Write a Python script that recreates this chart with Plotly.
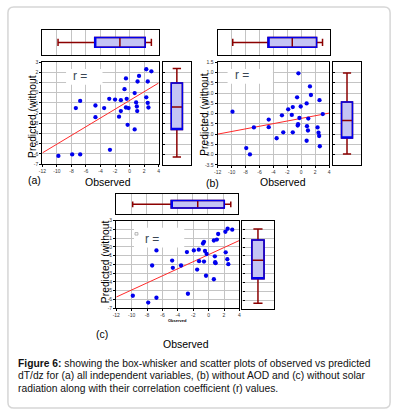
import plotly.graph_objects as go

W, H = 398, 414

# ---------------- data ----------------
obs_a = [-9.8, -7.9, -6.8, -6.8, -7.4, -4.7, -4.7, -3.5, -2.8, -2.7, -2.0, -1.2, -1.2, -1.45,
         -0.7, -0.5, -0.4, -0.5, -0.14, -0.27, 0.7, 0.7, 0.9, 1.0, 1.05, 1.1, 1.3, 2.3, 2.3,
         2.5, 2.5, 2.6, 3.0]
pred_a = [-6.2, -6.05, -6.05, -0.8, -1.5, -1.25, -2.4, -1.5, -0.6, -5.6, -0.67, -0.73, -1.8,
          -2.35, 0.35, 1.4, -0.6, -1.45, -1.5, -3.15, -0.03, -3.6, -0.95, -1.35, -1.8, 1.1,
          1.65, 2.3, -0.45, -1.0, 1.1, -1.45, 2.1]

obs_b = [-9.88, -7.9, -7.37, -6.8, -4.67, -4.67, -3.53, -2.77, -2.58, -1.87, -1.35, -1.21,
         -1.21, -0.59, -0.5, -0.45, -0.4, -0.26, -0.07, 0.78, 0.83, 1.02, 0.97, 0.78, 1.26,
         1.4, 2.35, 2.49, 2.58, 2.63, 2.68, 3.1]
pred_b = [-0.9, -2.68, -2.99, -1.67, -1.29, -1.66, -2.2, -1.08, -1.91, -0.79, -1.06, -0.68,
          -1.91, -0.2, -1.58, -1.51, 0.97, -1.21, -0.65, -0.5, -1.61, -1.24, -1.82, -2.32,
          0.33, -0.09, -1.67, -1.93, -2.09, -0.34, -2.59, -1.02]

obs_c = [-9.85, -7.85, -7.34, -6.78, -6.78, -4.74, -4.65, -3.58, -2.82, -2.69, -1.92, -1.49,
         -1.28, -1.24, -0.73, -0.6, -0.6, -0.47, -0.26, -0.34, 0.68, 0.68, 0.81, 0.85, 0.9,
         1.07, 1.24, 2.18, 2.22, 2.43, 2.47, 2.56, 3.07]
pred_c = [-5.58, -6.36, -2.13, -0.41, -5.81, -1.57, -2.39, -2.13, -0.6, -5.35, -0.41, -2.59,
          -0.33, -1.64, 0.38, 0.57, -1.68, -0.48, -0.82, -3.3, 0.72, -3.7, -1.08, -1.76, -1.87,
          0.83, 1.46, 1.72, -0.63, -1.42, 2.06, -1.98, 1.95]

# regression lines: [slope, intercept]
fit_a = [0.428, -0.76]
fit_b = [0.064, -1.23]
fit_c = [0.403, -0.89]

# box statistics: [lower whisker, q1, median, q3, upper whisker]
box_observed = [-9.85, -4.8, -1.33, 2.15, 3.0]
box_pred_a = [-6.25, -3.57, -1.37, 0.96, 2.37]
box_pred_b = [-2.97, -2.19, -1.33, -0.43, 0.99]
box_pred_c = [-6.36, -3.59, -1.49, 0.79, 2.03]

x_range = [-12, 4]
x_ticks = [-12, -10, -8, -6, -4, -2, 0, 2, 4]
x_tick_labels = ["-12", "-10", "-8", "-6", "-4", "-2", "0", "2", "4"]
y_range_ac = [-7, 3]
y_ticks_ac = [3, 2, 1, 0, -1, -2, -3, -4, -5, -6, -7]
y_tick_labels_ac = ["3", "2", "1", "0", "-1", "-2", "-3", "-4", "-5", "-6", "-7"]
y_range_b = [-3.5, 1.5]
y_ticks_b = [1.5, 1.0, 0.5, 0.0, -0.5, -1.0, -1.5, -2.0, -2.5, -3.0, -3.5]
y_tick_labels_b = ["1.5", "1.0", "0.5", "0.0", "-0.5", "-1.0", "-1.5", "-2.0", "-2.5",
                   "-3.0", "-3.5"]

panel_names = ["(a)", "(b)", "(c)"]
y_title = "Predicted (without"
x_title = "Observed"
r_label = "r ="

# ---------------- layout geometry (pixels) ----------------
panels = [
    dict(sc=(39, 157, 60, 163.5), top=(39, 157, 27, 53), right=(161, 190, 60, 164)),
    dict(sc=(217, 330, 60.3, 164.3), top=(217, 330.5, 27, 53), right=(334, 362.5, 60.3, 164.3)),
    dict(sc=(114, 239, 220.7, 309.7), top=(114, 238, 194, 214.5), right=(242, 273.7, 220.7, 310.5)),
]

def dx(l, r):
    return [l / W, r / W]

def dy(t, b):
    return [1 - b / H, 1 - t / H]

FONT = "Liberation Sans, Arial, sans-serif"
GRID = "#c4c4c4"
FILL = "#c4c4f4"
DARKRED = "#8b0000"
BLUE = "#0000ee"

fig = go.Figure()
layout = {}

datasets = [
    (obs_a, pred_a, fit_a, box_pred_a, y_range_ac, y_ticks_ac, y_tick_labels_ac),
    (obs_b, pred_b, fit_b, box_pred_b, y_range_b, y_ticks_b, y_tick_labels_b),
    (obs_c, pred_c, fit_c, box_pred_c, y_range_ac, y_ticks_ac, y_tick_labels_ac),
]

frame = dict(showline=True, mirror=True, linecolor="black", linewidth=1.4, zeroline=False)

def add_box(xa, ya, stats, horizontal, width):
    lo, q1, med, q3, hi = stats
    common = dict(xaxis=xa, yaxis=ya, boxpoints=False, hoverinfo="skip", showlegend=False,
                  width=width)
    pos = {"y": [0]} if horizontal else {"x": [0]}
    orient = "h" if horizontal else "v"
    fig.add_trace(go.Box(orientation=orient, q1=[q1], median=[med], q3=[q3],
                         lowerfence=[lo], upperfence=[hi], fillcolor=FILL,
                         line=dict(color=DARKRED, width=1.5), whiskerwidth=0.75,
                         **pos, **common))
    fig.add_trace(go.Box(orientation=orient, q1=[q1], median=[q1], q3=[q3],
                         lowerfence=[q1], upperfence=[q3], fillcolor="rgba(0,0,0,0)",
                         line=dict(color=BLUE, width=1.5), whiskerwidth=0,
                         **pos, **common))

def ax(n):
    return "" if n == 1 else str(n)

for i, (p, d) in enumerate(zip(panels, datasets)):
    obs, pred, fit, bstats, yr, yt, ytl = d
    n_sc, n_top, n_rt = 3 * i + 1, 3 * i + 2, 3 * i + 3
    l, r, t, b = p["sc"]
    layout["xaxis" + ax(n_sc)] = dict(domain=dx(l, r), anchor="y" + ax(n_sc), range=x_range,
                                      tickvals=x_ticks, ticktext=x_tick_labels,
                                      showgrid=True, gridcolor=GRID, gridwidth=1,
                                      ticks="outside", ticklen=2, tickcolor="black",
                                      tickfont=dict(size=5, color="#333", family=FONT), **frame)
    layout["yaxis" + ax(n_sc)] = dict(domain=dy(t, b), anchor="x" + ax(n_sc), range=yr,
                                      tickvals=yt, ticktext=ytl,
                                      showgrid=True, gridcolor=GRID, gridwidth=1,
                                      ticks="outside", ticklen=2, tickcolor="black",
                                      tickfont=dict(size=5, color="#333", family=FONT), **frame)
    l, r, t, b = p["top"]
    layout["xaxis" + ax(n_top)] = dict(domain=dx(l, r), anchor="y" + ax(n_top), range=x_range,
                                       tickvals=x_ticks, showticklabels=False,
                                       showgrid=True, gridcolor=GRID, gridwidth=1, **frame)
    layout["yaxis" + ax(n_top)] = dict(domain=dy(t, b), anchor="x" + ax(n_top), range=[-1, 1],
                                       showticklabels=False, showgrid=False, **frame)
    l, r, t, b = p["right"]
    layout["xaxis" + ax(n_rt)] = dict(domain=dx(l, r), anchor="y" + ax(n_rt), range=[-1, 1],
                                      showticklabels=False, showgrid=False, **frame)
    layout["yaxis" + ax(n_rt)] = dict(domain=dy(t, b), anchor="x" + ax(n_rt), range=yr,
                                      tickvals=yt, showticklabels=False,
                                      showgrid=True, gridcolor=GRID, gridwidth=1,
                                      ticks="inside", ticklen=2, tickcolor="black", **frame)

    fx = x_range
    fy = [fit[0] * v + fit[1] for v in fx]
    fig.add_trace(go.Scatter(x=fx, y=fy, mode="lines", line=dict(color="#ff2a2a", width=1),
                             xaxis="x" + ax(n_sc), yaxis="y" + ax(n_sc), hoverinfo="skip",
                             showlegend=False))
    fig.add_trace(go.Scatter(x=obs, y=pred, mode="markers",
                             marker=dict(color=BLUE, size=4.3, line=dict(width=0)),
                             xaxis="x" + ax(n_sc), yaxis="y" + ax(n_sc), hoverinfo="skip",
                             showlegend=False))
    add_box("x" + ax(n_top), "y" + ax(n_top), box_observed, True, 0.75)
    add_box("x" + ax(n_rt), "y" + ax(n_rt), bstats, False, 0.78)

annotations = []
shapes = []

def ann(text, x, y, size=11, angle=0, xanchor="center", color="black"):
    annotations.append(dict(text=text, x=x / W, y=1 - y / H, xref="paper", yref="paper",
                            showarrow=False, textangle=angle, xanchor=xanchor, yanchor="middle",
                            font=dict(size=size, color=color, family=FONT)))

# y titles
ann(y_title, 29, 115, size=10.3, angle=-90)
ann(y_title, 204, 112.5, size=10.3, angle=-90)
ann(y_title, 103, 262.5, size=10.3, angle=-90)
# x titles
ann(x_title, 106, 182, size=10.5)
ann(x_title, 283, 182, size=10.5)
ann(x_title, 185, 346, size=10.5)
ann("<b>" + x_title + "</b>", 176, 322, size=4)
# panel labels
ann(panel_names[0], 31, 180, size=10.5)
ann(panel_names[1], 212, 183, size=10.5)
ann(panel_names[2], 100, 336, size=10.5)

# "r =" white patches over the grid
r_boxes = [(63, 100, 67, 83, 68, 74), (227, 273, 67, 82, 232, 73.5), (132, 183, 228, 248, 141, 239.5)]
for (l, r, t, b, tx, ty) in r_boxes:
    shapes.append(dict(type="rect", xref="paper", yref="paper",
                       x0=l / W, x1=r / W, y0=1 - b / H, y1=1 - t / H,
                       fillcolor="white", line=dict(width=0), layer="above"))
    ann(r_label, tx, ty, size=12, xanchor="left", color="#3a4654")

# tiny marker in panel (c)
shapes.append(dict(type="rect", xref="paper", yref="paper", x0=133 / W, x1=136 / W,
                   y0=1 - 235.5 / H, y1=1 - 233 / H, line=dict(color="#888", width=0.6),
                   fillcolor="white"))

# caption
cap = ["<b>Figure 6:</b> showing the box-whisker and scatter plots of observed vs predicted",
       "dT/dz for (a) all independent variables, (b) without AOD and (c) without solar",
       "radiation along with their correlation coefficient (r) values."]
for k, line in enumerate(cap):
    ann(line, 12, 365.7 + 12.7 * k, size=10.3, xanchor="left", color="#111")

# rounded outer border
def rrect(x0, y0, x1, y1, rad):
    rx, ry = rad / W, rad / H
    X0, X1 = x0 / W, x1 / W
    Y0, Y1 = 1 - y0 / H, 1 - y1 / H
    return (f"M {X0 + rx} {Y0} L {X1 - rx} {Y0} Q {X1} {Y0} {X1} {Y0 - ry} "
            f"L {X1} {Y1 + ry} Q {X1} {Y1} {X1 - rx} {Y1} L {X0 + rx} {Y1} "
            f"Q {X0} {Y1} {X0} {Y1 + ry} L {X0} {Y0 - ry} Q {X0} {Y0} {X0 + rx} {Y0} Z")

shapes.append(dict(type="path", xref="paper", yref="paper", path=rrect(4, 4, 392, 411, 6),
                   line=dict(color="#d6d6d6", width=1.5), fillcolor="rgba(0,0,0,0)"))

fig.update_layout(width=W, height=H, autosize=False, margin=dict(l=0, r=0, t=0, b=0),
                  paper_bgcolor="white", plot_bgcolor="white", showlegend=False,
                  annotations=annotations, shapes=shapes, font=dict(family=FONT), **layout)

fig.write_html("out.html", config={"displayModeBar": False},
               post_script="document.body.style.margin='0';document.body.style.overflow='hidden';")
